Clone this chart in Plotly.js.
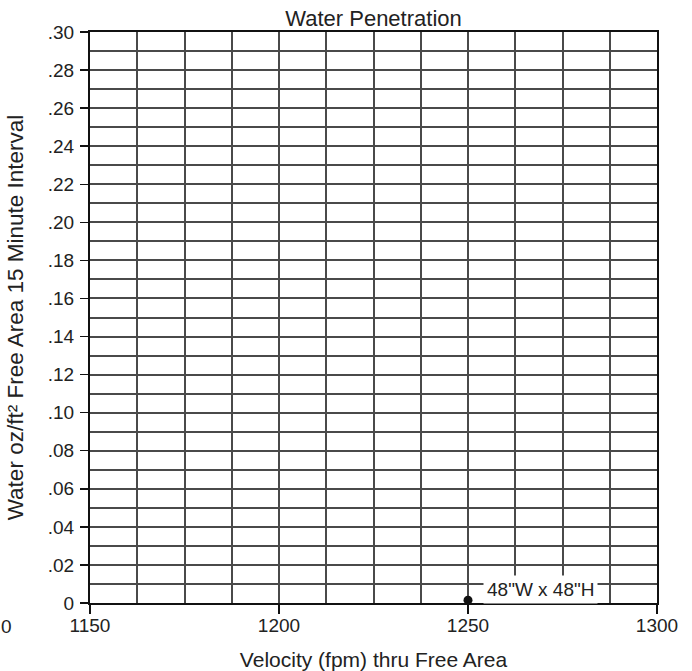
<!DOCTYPE html>
<html>
<head>
<meta charset="utf-8">
<script src="https://cdn.plot.ly/plotly-3.0.1.min.js"></script>
<style>html,body{margin:0;padding:0;background:#fff;}#chart{width:692px;height:671px;}</style>
</head>
<body>
<div id="chart"></div>
<script>
// Data
const velocity = [1250];
const water = [0.0015];
const pointLabel = '48"W x 48"H';
const labelPos = [1269.3, 0.0071];
const yTickVals = [0, 0.02, 0.04, 0.06, 0.08, 0.10, 0.12, 0.14, 0.16, 0.18, 0.20, 0.22, 0.24, 0.26, 0.28, 0.30];
const yTickText = ['0', '.02', '.04', '.06', '.08', '.10', '.12', '.14', '.16', '.18', '.20', '.22', '.24', '.26', '.28', '.30'];
const xTickVals = [1150, 1200, 1250, 1300];
const xTickText = ['1150', '1200', '1250', '1300'];
const edgeLabel = '0'; // remnant of a clipped tick label at the left edge

const FONT = 'Liberation Sans, Arial, Helvetica, sans-serif';
const TXT = '#222';
const GRID = '#4a4a4a';

const trace = {
  x: velocity, y: water, type: 'scatter', mode: 'markers',
  marker: {color: '#111', size: 9}, cliponaxis: false, showlegend: false, hoverinfo: 'none'
};

const layout = {
  width: 692, height: 671,
  margin: {l: 90, r: 35, t: 32, b: 68},
  paper_bgcolor: '#fff', plot_bgcolor: '#fff',
  font: {family: FONT, color: TXT, size: 18},
  title: {text: 'Water Penetration', font: {size: 22, family: FONT, color: TXT}, xref: 'paper', x: 0.5, xanchor: 'center', y: 0.973, yanchor: 'middle'},
  xaxis: {
    range: [1150, 1300], tickmode: 'array', tickvals: xTickVals, ticktext: xTickText,
    ticks: 'outside', ticklen: 9, tickwidth: 1.5, tickcolor: '#111',
    showline: true, linecolor: '#111', linewidth: 2, mirror: true,
    showgrid: true, gridcolor: GRID, gridwidth: 2, zeroline: false,
    minor: {dtick: 12.5, tick0: 1150, showgrid: true, gridcolor: GRID, gridwidth: 2, ticks: ''},
    tickfont: {size: 19, family: FONT, color: TXT}, ticklabelstandoff: -5,
    title: {text: 'Velocity (fpm) thru Free Area', font: {size: 21, family: FONT, color: TXT}, standoff: 20}
  },
  yaxis: {
    range: [0, 0.30], tickmode: 'array', tickvals: yTickVals, ticktext: yTickText,
    ticks: 'outside', ticklen: 8, tickwidth: 1.5, tickcolor: '#111',
    showline: true, linecolor: '#111', linewidth: 2, mirror: true,
    showgrid: true, gridcolor: GRID, gridwidth: 2, zeroline: false,
    minor: {dtick: 0.01, tick0: 0, showgrid: true, gridcolor: GRID, gridwidth: 2, ticks: ''},
    tickfont: {size: 19, family: FONT, color: TXT}, ticklabelstandoff: 2,
    title: {text: 'Water oz/ft² Free Area 15 Minute Interval', font: {size: 22.5, family: FONT, color: TXT}, standoff: 18}
  },
  annotations: [
    {x: labelPos[0], y: labelPos[1], xref: 'x', yref: 'y', text: pointLabel, showarrow: false,
     bgcolor: '#fff', borderpad: 3, font: {size: 19, family: FONT, color: TXT}},
    {x: -77 / 567, xref: 'paper', xanchor: 'right', y: 0, yref: 'paper', yanchor: 'top', yshift: -12,
     text: edgeLabel, showarrow: false, borderpad: 0, font: {size: 19, family: FONT, color: TXT}}
  ]
};

Plotly.newPlot('chart', [trace], layout, {displayModeBar: false, staticPlot: true});
</script>
</body>
</html>
